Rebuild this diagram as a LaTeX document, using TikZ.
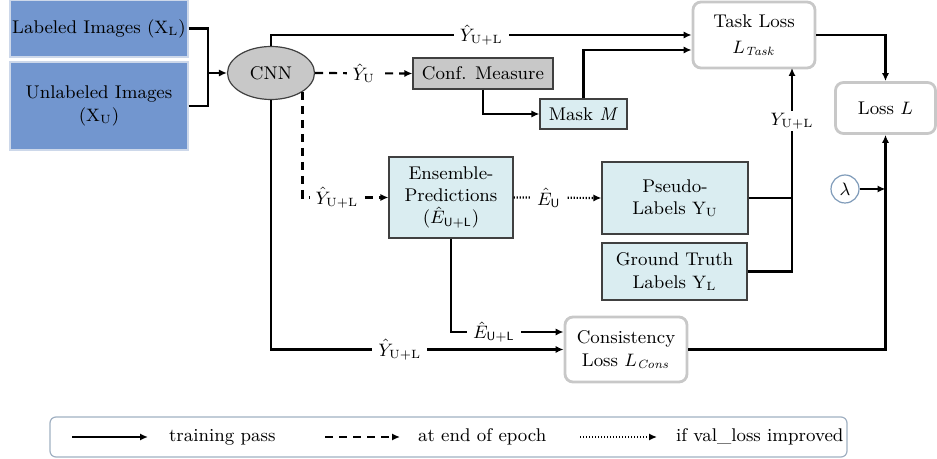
\documentclass[tikz,border=0pt]{standalone}
\usetikzlibrary{arrows.meta,shapes.geometric}

\definecolor{imgblue}{RGB}{114,150,207}
\definecolor{imgline}{RGB}{205,216,234}
\definecolor{cnngray}{RGB}{200,200,200}
\definecolor{predcyan}{RGB}{218,237,241}
\definecolor{lossgray}{RGB}{200,200,200}
\definecolor{keyline}{RGB}{160,176,194}
\definecolor{lamline}{RGB}{127,155,185}

\begin{document}
\begin{tikzpicture}
        [
           x=0.5pt, y=-0.5pt,
           every node/.style={font=\fontsize{9.2}{11.2}\selectfont, inner sep=0pt, align=center},
           >={Latex[length=4pt,width=3.6pt]},
           line width=1.1pt
        ]
        \tikzstyle{input}=[rectangle,fill=imgblue,draw=imgline,line width=0.6pt]
        \tikzstyle{grey box}=[rectangle,fill=cnngray,draw=black!75,line width=0.6pt]
        \tikzstyle{cyan box}=[rectangle,fill=predcyan,draw=black!75,line width=0.6pt]
        \tikzstyle{loss}=[rectangle,rounded corners=4pt,fill=white,draw=lossgray,line width=1.4pt]
        \tikzstyle{lbl}=[fill=white,inner xsep=3pt,inner ysep=1pt]
        \tikzstyle{epoch}=[dash pattern=on 4pt off 3pt]
        \tikzstyle{improved}=[dash pattern=on 0.6pt off 0.9pt]
        \useasboundingbox (0,0) rectangle (937,459);
        \node[input, minimum width=89pt, minimum height=28.5pt] (lab) at (99,28.5) {Labeled Images ($\mathrm{X}_\mathrm{L}$)};
        \node[input, minimum width=89pt, minimum height=44pt] (unlab) at (99,106) {Unlabeled Images\\($\mathrm{X}_\mathrm{U}$)};
        \node[ellipse, fill=cnngray, draw=black!75, line width=0.6pt, minimum width=43.5pt, minimum height=26.5pt] (cnn) at (271,73) {CNN};
        \node[grey box, minimum width=70pt, minimum height=15.5pt] (conf) at (483,73.5) {Conf. Measure};
        \node[cyan box, minimum width=43.5pt, minimum height=15pt] (mask) at (583.5,114) {Mask \textit{M}};
        \node[loss, minimum width=61pt, minimum height=33pt] (task) at (754,35) {Task Loss\\[2pt]$L_{\mathit{Task}}$};
        \node[loss, minimum width=50pt, minimum height=25.5pt] (total) at (885.5,108) {Loss $L$};
        \node[cyan box, minimum width=62pt, minimum height=40.5pt] (ens) at (451,197.5) {Ensemble-\\Predictions\\($\hat{E}_{\mathsf{U+L}}$)};
        \node[cyan box, minimum width=73pt, minimum height=36pt] (pseudo) at (675,198) {Pseudo-\\Labels $\mathrm{Y}_\mathrm{U}$};
        \node[cyan box, minimum width=72.5pt, minimum height=28.5pt] (gt) at (674.5,271.5) {Ground Truth\\Labels $\mathrm{Y}_\mathrm{L}$};
        \node[circle, draw=lamline, line width=0.6pt, minimum size=14pt] (lam) at (845,189) {$\lambda$};
        \node[loss, minimum width=61pt, minimum height=32.5pt] (cons) at (626,349.5) {Consistency\\Loss $L_{\mathit{Cons}}$};
        \coordinate (jin) at (208,73);
        \coordinate (tin) at (792,68);
        \draw (lab.east) -| (jin);
        \draw (unlab.east) -| (jin);
        \draw[->] (jin) -- (cnn.west);
        \draw[->] (cnn.north) |- node[lbl, pos=.75]{$\hat{Y}_{\mathrm{U+L}}$} (task.west);
        \draw[->] (mask.north) |- ([yshift=-7.5pt]task.west);
        \draw[->, epoch] (cnn.east) -- node[lbl]{$\hat{Y}_{\mathrm{U}}$} (conf.west);
        \draw[->] (conf.south) |- (mask.west);
        \draw[->] (task.east) -| (total.north);
        \draw[->, epoch] (cnn.-31) |- node[lbl, pos=.7]{$\hat{Y}_{\mathrm{U+L}}$} (ens.west);
        \draw[->, improved] (ens.east) -- node[lbl, pos=.4]{$\hat{E}_{\mathsf{U}}$} (pseudo.west);
        \draw (pseudo.east) -- (pseudo.east -| tin);
        \draw[->] (gt.east) -| node[lbl, pos=.87]{$Y_{\mathrm{U+L}}$} (tin);
        \draw[->] (lam.east) -- (lam.east -| total.south);
        \draw[->] (cons.east) -| (total.south);
        \draw[->] (ens.south) |- node[lbl, pos=.69]{$\hat{E}_{\mathsf{U+L}}$} ([yshift=8.75pt]cons.west);
        \draw[->] (cnn.south) |- node[lbl, pos=.72]{$\hat{Y}_{\mathrm{U+L}}$} (cons.west);
        \node[draw=keyline, line width=0.6pt, rounded corners=3pt, minimum width=398.5pt, minimum height=20pt] (key) at (448.5,437) {};
        \node[anchor=west] (ktrain) at (168,437) {training pass};
        \node[anchor=west] (kepoch) at (417,437) {at end of epoch};
        \node[anchor=west] (kval) at (675,437) {if val\_loss improved};
        \draw[->] ([xshift=-48pt]ktrain.west) -- ([xshift=-10pt]ktrain.west);
        \draw[->, epoch] ([xshift=-46pt]kepoch.west) -- ([xshift=-8.5pt]kepoch.west);
        \draw[->, improved] ([xshift=-47.5pt]kval.west) -- ([xshift=-9pt]kval.west);
\end{tikzpicture}
\end{document}
